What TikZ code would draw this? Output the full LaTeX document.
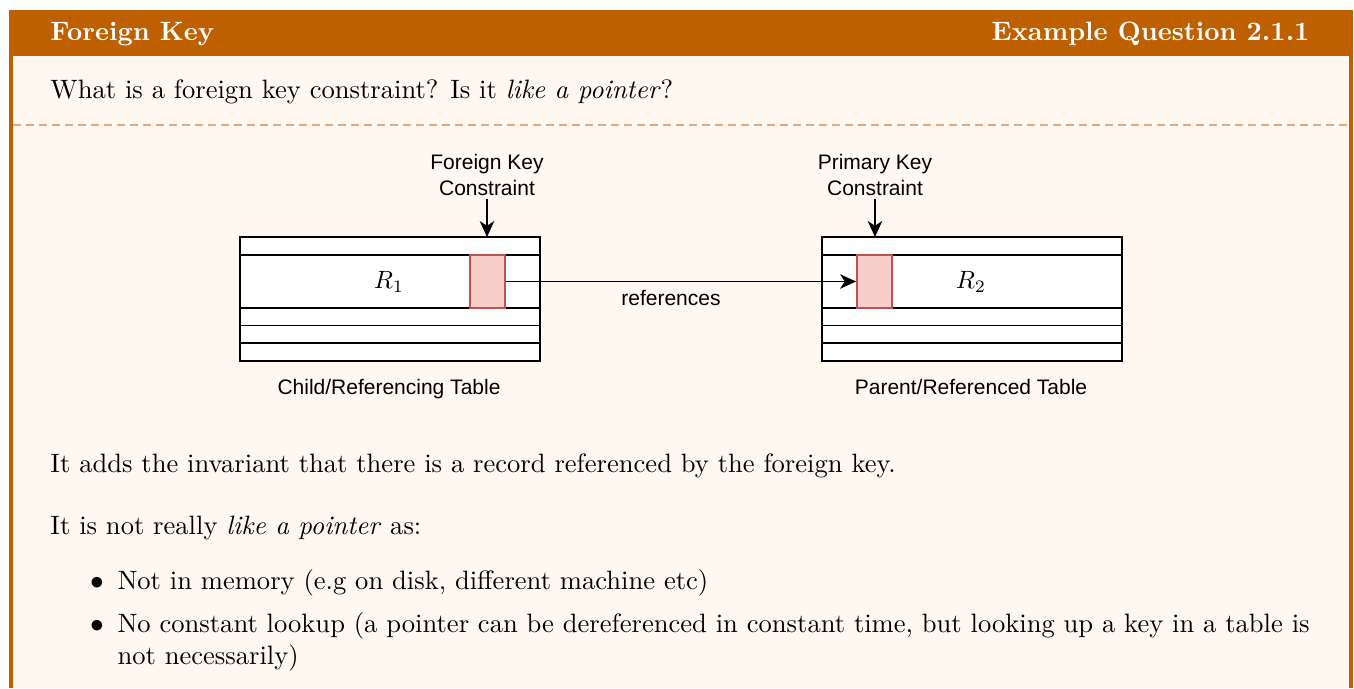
\documentclass[tikz,border=0pt]{standalone}
\usepackage{fontspec}
\newfontfamily\diagfont{Liberation Sans}
\usetikzlibrary{arrows.meta}
\definecolor{hdrcol}{RGB}{191,96,0}
\definecolor{bgcol}{RGB}{255,248,241}
\definecolor{dashcol}{RGB}{226,170,120}
\definecolor{keyfill}{RGB}{248,206,204}
\definecolor{keydraw}{RGB}{184,84,80}
\tikzset{
  body/.style={inner sep=0pt, font=\fontsize{10.63}{12.8}\selectfont, text=black},
  hdrtxt/.style={inner sep=0pt, font=\fontsize{10.63}{12.8}\selectfont\bfseries, text=white},
  lbl/.style={inner sep=1pt, font=\diagfont\fontsize{8.4}{10.4}\selectfont, align=center},
  tbl/.style={draw=black, fill=white, line width=0.8pt, minimum width=120pt, minimum height=49.6pt, inner sep=0pt},
  rowline/.style={draw=black, line width=0.65pt},
  keybox/.style={draw=keydraw, fill=keyfill, line width=0.75pt, minimum width=14pt, minimum height=21.2pt, inner sep=0pt},
  arr/.style={draw=black, line width=0.6pt, -{Stealth[length=6.4pt,width=5.8pt,inset=1.9pt]}},
}
\begin{document}
\begin{tikzpicture}[x=0.4pt,y=-0.4pt]
\useasboundingbox (0,0) rectangle (1354,688);
\fill[white] (0,0) rectangle (1354,688);
\fill[hdrcol] (9,10) rectangle (1353,688);
\fill[bgcol] (13,56) rectangle (1349,688);
\draw[dashcol, line width=0.6pt, dash pattern=on 3.2pt off 2pt] (13,125) -- (1349,125);

% header
\node[hdrtxt, anchor=base west] (h1) at (50,40) {Foreign Key};
\node[hdrtxt, anchor=base east] (h2) at (1310,40) {Example Question 2.1.1};

% question
\node[body, anchor=base west] (q) at (50,98) {What is a foreign key constraint? Is it \emph{like a pointer}?};

% diagram: child table
\node[tbl] (t1) at (390,299) {};
\draw[rowline] (240,255) -- (540,255);
\draw[rowline] (240,308) -- (540,308);
\draw[rowline] (240,325.5) -- (540,325.5);
\draw[rowline] (240,343) -- (540,343);
\node[keybox] (fk) at (487.5,281.5) {};
\node[inner sep=0pt, font=\fontsize{9.8}{11}\selectfont] (r1) at (389,282) {$R_1$};

% parent table
\node[tbl] (t2) at (972,299) {};
\draw[rowline] (822,255) -- (1122,255);
\draw[rowline] (822,308) -- (1122,308);
\draw[rowline] (822,325.5) -- (1122,325.5);
\draw[rowline] (822,343) -- (1122,343);
\node[keybox] (pk) at (874.5,281.5) {};
\node[inner sep=0pt, font=\fontsize{9.8}{11}\selectfont] (r2) at (971,282) {$R_2$};

% labels
\node[lbl] (fkl) at (487,175) {Foreign Key\\Constraint};
\coordinate (fktop) at (487,237);
\draw[arr] (fkl.south) -- (fktop);
\node[lbl] (pkl) at (875,175) {Primary Key\\Constraint};
\coordinate (pktop) at (875,237);
\draw[arr] (pkl.south) -- (pktop);

\draw[arr] (fk.east) -- (pk.west);
\node[lbl, anchor=base] (refl) at (671,305) {references};

\node[lbl, anchor=base] (c1) at (389,394) {Child/Referencing Table};
\node[lbl, anchor=base] (c2) at (971,394) {Parent/Referenced Table};

% answer
\node[body, anchor=base west] (a1) at (50,472) {It adds the invariant that there is a record referenced by the foreign key.};
\node[body, anchor=base west] (a2) at (50,534) {It is not really \emph{like a pointer} as:};
\node[body, anchor=base] (b1) at (97,589) {$\bullet$};
\node[body, anchor=base west] (i1) at (117,589) {Not in memory (e.g on disk, different machine etc)};
\node[body, anchor=base] (b2) at (97,632) {$\bullet$};
\node[body, anchor=base west] (i2) at (117,632) {No constant lookup (a pointer can be dereferenced in constant time, but looking up a key in a table is};
\node[body, anchor=base west] (i3) at (117,664) {not necessarily)};
\end{tikzpicture}
\end{document}
